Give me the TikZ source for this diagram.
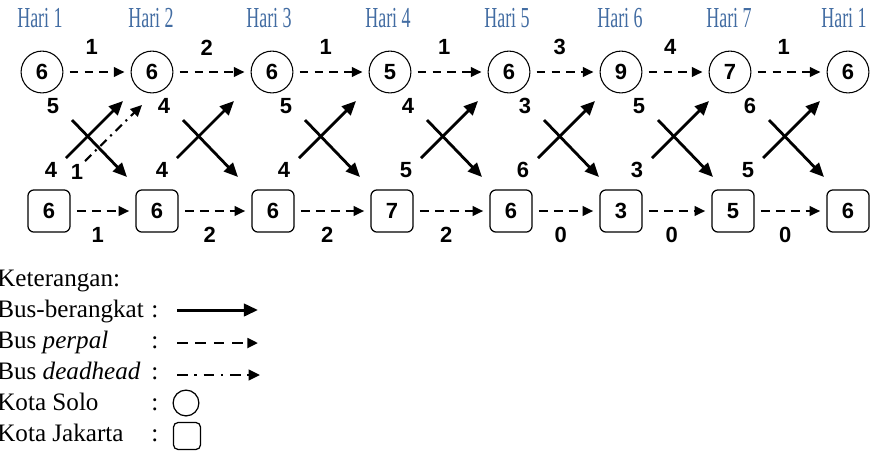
\documentclass[tikz,border=0pt]{standalone}
\usepackage{fontspec}
\setmainfont{Liberation Serif}
\newfontfamily\numfont{Liberation Sans}
\usepackage{tikz}
\usetikzlibrary{arrows.meta, positioning}
\definecolor{hariBlue}{RGB}{66,108,162}
\tikzstyle{numFont}=[font=\numfont\bfseries\fontsize{12.5}{14}\selectfont]
\tikzstyle{soloNode}=[circle, draw=black, line width=0.6pt, minimum size=23.8pt, inner sep=0pt, numFont]
\tikzstyle{jktNode}=[rectangle, rounded corners=3.5pt, draw=black, line width=0.7pt, minimum size=24pt, inner sep=0pt, numFont]
\tikzstyle{numLabel}=[inner sep=0pt, numFont]
\tikzstyle{perpalArrow}=[-{Triangle[length=6pt,width=5.5pt]}, line width=1pt,
  dash pattern=on 5pt off 3.5pt, shorten >=3.5pt, shorten <=3.5pt]
\tikzstyle{berangkatArrow}=[-{Triangle[length=8pt,width=7pt]}, line width=1.6pt]
\tikzstyle{deadheadArrow}=[-{Triangle[length=6.5pt,width=6pt]}, line width=1.2pt,
  dash pattern=on 5pt off 3pt on 1.2pt off 3pt]
\tikzstyle{hariLabel}=[text=hariBlue, font=\fontsize{16.5}{18}\selectfont, xscale=0.62, inner sep=0pt]
\tikzstyle{legendText}=[font=\fontsize{14.3}{16}\selectfont, inner sep=0pt, anchor=base west]

\begin{document}
\begin{tikzpicture}[x=0.02cm, y=-0.02cm]
  \useasboundingbox (0,0) rectangle (872,451);

  % days
  \foreach \x/\d [count=\i] in {40/1, 151/2, 269/3, 388/4, 507/5, 620/6, 729/7, 844/1}
    \node[hariLabel] (hari\i) at (\x,18) {Hari \d};

  % Solo (top) and Jakarta (bottom)
  \foreach \x/\n [count=\i] in {42/6, 152/6, 272/6, 390/5, 509/6, 621/9, 730/7, 848/6}
    \node[soloNode] (s\i) at (\x,72) {\n};
  \foreach \x/\n [count=\i] in {49/6, 157/6, 273/6, 392/7, 511/6, 621/3, 733/5, 848/6}
    \node[jktNode] (j\i) at (\x,211) {\n};

  % bus perpal
  \foreach \i/\j/\a/\b in {1/2/1/1, 2/3/2/2, 3/4/1/2, 4/5/1/2, 5/6/3/0, 6/7/4/0, 7/8/1/0} {
    \draw[perpalArrow] (s\i) -- node[numLabel, yshift=14pt, xshift=-3pt] {\a} (s\j);
    \draw[perpalArrow] (j\i) -- node[numLabel, yshift=-13.5pt, xshift=-3pt] {\b} (j\j);
  }

  % bus berangkat
  \foreach \cx/\t/\b [count=\i] in {97/5/4, 208/4/4, 330/5/4, 452/4/5, 569/3/6, 683/5/3, 794/6/5} {
    \coordinate (dTop\i) at (\cx-25,120);
    \coordinate (dBot\i) at (\cx+30,177);
    \coordinate (uBot\i) at (\cx-31,158);
    \coordinate (uTop\i) at (\cx+26,101);
    \draw[berangkatArrow] (dTop\i) -- (dBot\i);
    \draw[berangkatArrow] (uBot\i) -- (uTop\i);
    \node[numLabel] (tl\i) at (\cx-44,106) {\t};
    \node[numLabel] (bl\i) at (\cx-46,170) {\b};
  }

  % bus deadhead
  \coordinate (ddBot) at (85,161);
  \coordinate (ddTop) at (142,105);
  \draw[deadheadArrow] (ddBot) -- (ddTop);
  \node[numLabel] (ddLabel) at (77,172) {1};

  % legend
  \node[legendText] (ket) at (-3,286) {Keterangan:};
  \foreach \y/\t [count=\i] in {317/Bus-berangkat, 348/Bus \textit{perpal},
      379/Bus \textit{deadhead}, 410/Kota Solo, 441/Kota Jakarta} {
    \node[legendText] (leg\i) at (-3,\y) {\t};
    \node[legendText] (col\i) at (151,\y) {:};
  }
  \coordinate (lsA) at (177,310);
  \coordinate (lsB) at (258,310);
  \coordinate (lpA) at (177,343);
  \coordinate (lpB) at (258,343);
  \coordinate (ldA) at (177,375);
  \coordinate (ldB) at (260,375);
  \draw[berangkatArrow, line width=1.7pt] (lsA) -- (lsB);
  \draw[perpalArrow, line width=1.5pt, dash pattern=on 6pt off 4.5pt, shorten >=0pt, shorten <=0pt] (lpA) -- (lpB);
  \draw[deadheadArrow, line width=1.5pt, dash pattern=on 6pt off 3.8pt on 1.5pt off 3.8pt] (ldA) -- (ldB);
  \node[circle, draw=black, line width=0.7pt, minimum size=14.7pt, inner sep=0pt] (legSolo) at (186,403) {};
  \node[rectangle, rounded corners=2.5pt, draw=black, line width=0.7pt, minimum size=15.3pt, inner sep=0pt] (legJkt) at (187,436) {};
\end{tikzpicture}
\end{document}
